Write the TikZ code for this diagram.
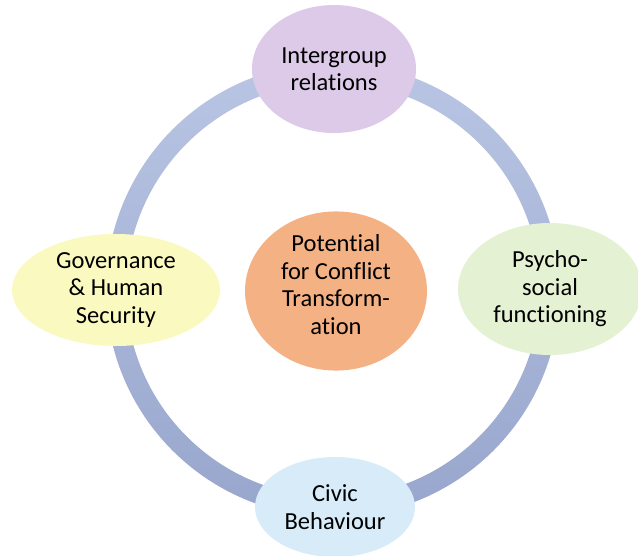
\documentclass[tikz,border=0pt]{standalone}
\usepackage{fontspec}
\setmainfont{Carlito}[Ligatures=NoCommon]
\usetikzlibrary{shapes.geometric}
\definecolor{ringtop}{HTML}{B9C5E3}
\definecolor{ringbot}{HTML}{98A6CD}
\definecolor{lavender}{HTML}{DCCAE8}
\definecolor{lemon}{HTML}{FAF9C0}
\definecolor{mint}{HTML}{E5F1D3}
\definecolor{sky}{HTML}{D7EBF8}
\definecolor{peach}{HTML}{F4B183}
\tikzset{
  bubble/.style={ellipse,inner sep=0pt,align=center,
    font=\fontsize{24.5}{27.5}\selectfont,text=black}
}
\begin{document}
\begin{tikzpicture}[x=1pt,y=-1pt]
\useasboundingbox (0,0) rectangle (638,555);
\clip (0,0) rectangle (638,555);
% ring
\shade[even odd rule,top color=ringtop,bottom color=ringbot]
  (333,290) circle (227) circle (207);
% outer bubbles
\node[bubble,fill=lavender,minimum width=164,minimum height=128] (ig) at (334,69){Intergroup\\relations};
\node[bubble,fill=lemon,minimum width=208,minimum height=112] (gov) at (116,290){Governance\\\&~Human\\Security};
\node[bubble,fill=mint,minimum width=184,minimum height=132] (psy) at (550,289){Psycho-\\social\\functioning};
\node[bubble,fill=sky,minimum width=160,minimum height=100] (civ) at (335,507){Civic\\Behaviour};
% centre
\node[bubble,fill=peach,minimum width=182,minimum height=140,text depth=13pt] (pot) at (336,291){Potential\\for Conflict\\Transform-\\ation};
\end{tikzpicture}
\end{document}
